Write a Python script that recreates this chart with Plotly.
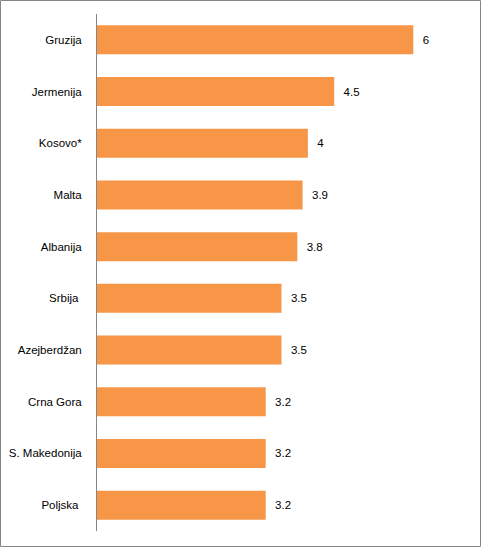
import plotly.graph_objects as go

countries = ["Gruzija", "Jermenija", "Kosovo*", "Malta", "Albanija", "Srbija ",
             "Azejberdžan", "Crna Gora", "S. Makedonija", "Poljska "]
values = [6, 4.5, 4, 3.9, 3.8, 3.5, 3.5, 3.2, 3.2, 3.2]

W, H = 481, 547
ml, mr, mt, mb = 97, 15, 14, 16
pw, ph = W - ml - mr, H - mt - mb

fig = go.Figure(go.Bar(
    x=values, y=countries, orientation="h",
    marker=dict(color="#F79646", line=dict(width=0)),
    text=[f"  {v}" for v in values], textposition="outside",
    textfont=dict(size=11.5, color="#000000", family="Liberation Sans"),
    cliponaxis=False, hoverinfo="skip",
))

fig.update_layout(
    width=W, height=H, margin=dict(l=ml, r=mr, t=mt, b=mb, autoexpand=False),
    paper_bgcolor="white", plot_bgcolor="white",
    bargap=0.44, showlegend=False,
    font=dict(family="Liberation Sans", size=11.5, color="#000000"),
    xaxis=dict(range=[0, 7], visible=False, showgrid=False, zeroline=False,
               automargin=False),
    yaxis=dict(autorange="reversed", showline=True, linecolor="#868686", linewidth=1,
               showgrid=False, ticks="", ticklabelstandoff=12, automargin=False,
               tickfont=dict(size=11.5, family="Liberation Sans")),
    shapes=[dict(type="rect", xref="paper", yref="paper",
                 x0=(0.5 - ml) / pw, x1=(W - 0.5 - ml) / pw,
                 y0=-(mb - 0.5) / ph, y1=1 + (mt - 0.5) / ph,
                 line=dict(color="#868686", width=1))],
)

fig.write_html("out.html", config={"displayModeBar": False},
               post_script="document.body.style.margin='0';document.body.style.overflow='hidden';")
